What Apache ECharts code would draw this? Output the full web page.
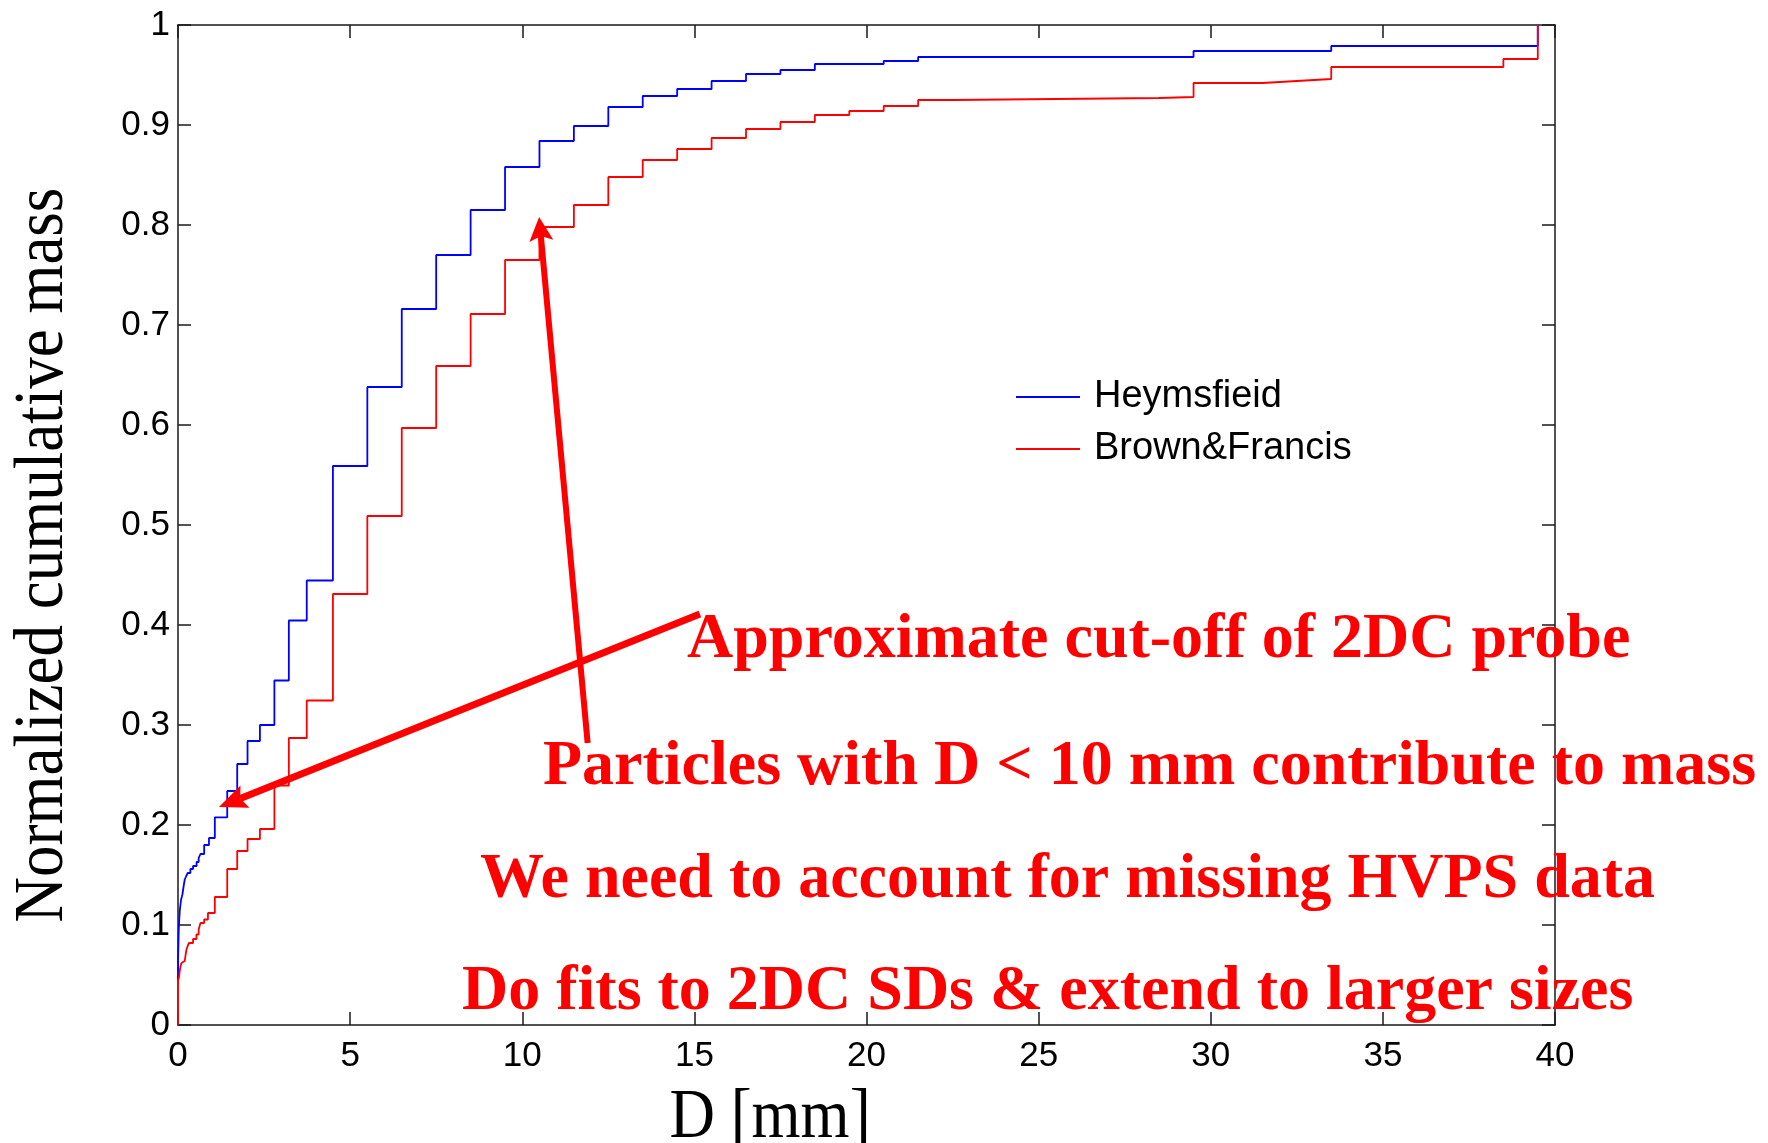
<!DOCTYPE html>
<html>
<head>
<meta charset="utf-8">
<title>Normalized cumulative mass</title>
<script src="https://cdn.jsdelivr.net/npm/echarts@6/dist/echarts.min.js"></script>
<style>
  html, body { margin: 0; padding: 0; background: #ffffff; }
  #chart { width: 1768px; height: 1143px; }
</style>
</head>
<body>
<div id="chart"></div>
<script>
// Cumulative mass fraction vs. particle size; each value holds from its bin edge to the next one.
const heymsfieldD = [
  0, 0.005, 0.015, 0.022, 0.035, 0.051, 0.07, 0.09, 0.11, 0.128, 0.16, 0.196, 0.24, 0.283,
  0.36, 0.437, 0.54, 0.60, 0.652, 0.76, 0.90, 1.07, 1.43, 1.72, 2.02, 2.38, 2.80, 3.22, 3.74,
  4.5, 5.5, 6.5, 7.5, 8.5, 9.5, 10.5, 11.5, 12.5, 13.5, 14.5, 15.5, 16.5, 17.5, 18.5,
  20.5, 21.5, 29.5, 33.5, 39.5
];
const heymsfieldMass = [
  0.045, 0.070, 0.085, 0.095, 0.105, 0.114, 0.120, 0.1255, 0.128, 0.1305, 0.138, 0.1455, 0.149, 0.152,
  0.156, 0.159, 0.163, 0.167, 0.171, 0.180, 0.187, 0.2077, 0.234, 0.261, 0.284, 0.300, 0.3445, 0.4045, 0.4445,
  0.559, 0.638, 0.716, 0.770, 0.815, 0.858, 0.884, 0.899, 0.918, 0.929, 0.936, 0.944, 0.951, 0.955, 0.961,
  0.964, 0.968, 0.974, 0.979, 1.0
];

const brownFrancisD = [
  0, 0, 0.03, 0.05, 0.07, 0.10, 0.128, 0.196, 0.22, 0.243, 0.28, 0.32, 0.437, 0.535, 0.60,
  0.652, 0.76, 0.87, 1.07, 1.43, 1.72, 2.02, 2.38, 2.80, 3.22, 3.74,
  4.5, 5.5, 6.5, 7.5, 8.5, 9.5, 10.5, 11.5, 12.5, 13.5, 14.5, 15.5, 16.5, 17.5, 18.5,
  19.5, 20.5, 21.5, 22.5, 28.5, 29.5, 31.5, 32.5, 33.5, 38.5, 39.5
];
const brownFrancisMass = [
  0, 0.044, 0.048, 0.054, 0.058, 0.062, 0.064, 0.0655, 0.070, 0.075, 0.079, 0.082, 0.086, 0.0905, 0.0955,
  0.102, 0.1055, 0.112, 0.128, 0.156, 0.174, 0.186, 0.196, 0.2395, 0.287, 0.3245,
  0.431, 0.509, 0.597, 0.659, 0.711, 0.765, 0.798, 0.820, 0.848, 0.865, 0.876, 0.887, 0.896, 0.903, 0.910,
  0.914, 0.919, 0.925, 0.927, 0.928, 0.942, 0.944, 0.946, 0.958, 0.966, 1.0
];

const seriesNames = ['Heymsfieid', 'Brown&Francis'];
const xRange = [0, 40];
const xStep = 5;
const yRange = [0, 1];
const yStep = 0.1;
const xTitle = 'D [mm]';
const yTitle = 'Normalized cumulative mass';

const notes = [
  'Approximate cut-off of 2DC probe',
  'Particles with D < 10 mm contribute to mass',
  'We need to account for missing HVPS data',
  'Do fits to 2DC SDs & extend to larger sizes'
];
// Arrow tails and heads, in axis units
const arrowFrom = [[15.16, 0.411], [11.90, 0.282]];
const arrowTo = [[1.19, 0.218], [10.49, 0.808]];

const pairs = (xs, ys) => xs.map((x, i) => [x, ys[i]]);

const axisColor = '#1a1a1a';
const lineAxis = { show: true, onZero: false, lineStyle: { color: axisColor, width: 1.5 } };
const innerTicks = { show: true, inside: true, length: 13, lineStyle: { color: axisColor, width: 1.5 } };
const tickFont = { color: '#000', fontFamily: 'Liberation Sans', fontSize: 35 };

const chart = echarts.init(document.getElementById('chart'), null, { renderer: 'canvas' });

chart.setOption({
  animation: false,
  backgroundColor: '#ffffff',
  grid: { left: 178, top: 25, right: 213, bottom: 118, containLabel: false },
  xAxis: [
    {
      type: 'value', min: xRange[0], max: xRange[1], interval: xStep, position: 'bottom',
      axisLine: lineAxis, axisTick: innerTicks,
      axisLabel: Object.assign({ margin: 14 }, tickFont),
      splitLine: { show: false }
    },
    {
      type: 'value', min: xRange[0], max: xRange[1], interval: xStep, position: 'top',
      axisLine: lineAxis, axisTick: innerTicks, axisLabel: { show: false }, splitLine: { show: false }
    }
  ],
  yAxis: [
    {
      type: 'value', min: yRange[0], max: yRange[1], interval: yStep, position: 'left',
      axisLine: lineAxis, axisTick: innerTicks,
      axisLabel: Object.assign({ margin: 8 }, tickFont),
      splitLine: { show: false }
    },
    {
      type: 'value', min: yRange[0], max: yRange[1], interval: yStep, position: 'right',
      axisLine: lineAxis, axisTick: innerTicks, axisLabel: { show: false }, splitLine: { show: false }
    }
  ],
  legend: {
    orient: 'vertical',
    left: 1016,
    top: 378,
    padding: 0,
    icon: 'rect',
    itemWidth: 64,
    itemHeight: 1.8,
    itemGap: 14,
    selectedMode: false,
    data: seriesNames,
    textStyle: { fontFamily: 'Liberation Sans', fontSize: 38, lineHeight: 38, color: '#000', padding: [0, 0, 0, 9] }
  },
  series: [
    {
      name: seriesNames[0], type: 'line', step: 'end',
      data: pairs(heymsfieldD, heymsfieldMass),
      symbol: 'none', showSymbol: false,
      lineStyle: { color: '#0000ff', width: 1.8 }, itemStyle: { color: '#0000ff' },
      z: 2
    },
    {
      name: seriesNames[1], type: 'line', step: 'end',
      data: pairs(brownFrancisD, brownFrancisMass),
      symbol: 'none', showSymbol: false,
      lineStyle: { color: '#ff0000', width: 1.8 }, itemStyle: { color: '#ff0000' },
      z: 3
    }
  ]
});

// Red arrow: shaft plus a notched head pointing at the target
function arrow(p0, p1, lineW, headL, headW, notch) {
  const dx = p1[0] - p0[0], dy = p1[1] - p0[1];
  const len = Math.hypot(dx, dy);
  const ux = dx / len, uy = dy / len, nx = -uy, ny = ux;
  const base = [p1[0] - ux * headL, p1[1] - uy * headL];
  const inner = [p1[0] - ux * (headL - notch), p1[1] - uy * (headL - notch)];
  return [
    {
      type: 'line', z: 50,
      shape: { x1: p0[0], y1: p0[1], x2: inner[0], y2: inner[1] },
      style: { stroke: '#ff0000', lineWidth: lineW }
    },
    {
      type: 'polygon', z: 51,
      shape: { points: [p1, [base[0] + nx * headW / 2, base[1] + ny * headW / 2], inner,
                        [base[0] - nx * headW / 2, base[1] - ny * headW / 2]] },
      style: { fill: '#ff0000' }
    }
  ];
}

const toPx = (p) => chart.convertToPixel({ xAxisIndex: 0, yAxisIndex: 0 }, p);

const notePos = [[687, 640], [543, 767], [480, 880], [462, 992]];
const noteText = notes.map((t, i) => ({
  type: 'text', z: 60, x: notePos[i][0], y: notePos[i][1],
  style: {
    text: t, fill: '#ff0000',
    font: 'bold 64px "Liberation Serif", "Times New Roman", serif',
    align: 'left', verticalAlign: 'middle', textAlign: 'left', textVerticalAlign: 'middle'
  }
}));

const titles = [
  {
    type: 'text', z: 60, x: 770, y: 1119, scaleY: 1.1,
    style: {
      text: xTitle, fill: '#000', font: '63px "Liberation Serif", "Times New Roman", serif',
      align: 'center', verticalAlign: 'middle', textAlign: 'center', textVerticalAlign: 'middle'
    }
  },
  {
    type: 'text', z: 60, x: 44, y: 555, rotation: Math.PI / 2, scaleY: 1.1,
    style: {
      text: yTitle, fill: '#000', font: '63px "Liberation Serif", "Times New Roman", serif',
      align: 'center', verticalAlign: 'middle', textAlign: 'center', textVerticalAlign: 'middle'
    }
  }
];

const arrows = []
  .concat(arrow(toPx(arrowFrom[0]), toPx(arrowTo[0]), 7, 28, 24, 5))
  .concat(arrow(toPx(arrowFrom[1]), toPx(arrowTo[1]), 6, 24, 24, 5));

chart.setOption({ graphic: titles.concat(noteText, arrows) });
</script>
</body>
</html>
